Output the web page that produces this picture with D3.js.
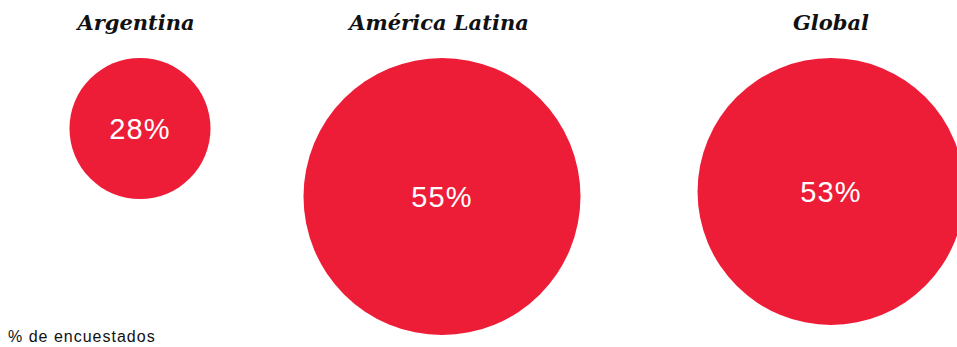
<!DOCTYPE html>
<html>
<head>
<meta charset="utf-8">
<script src="https://cdn.jsdelivr.net/npm/d3@7"></script>
<style>
  html, body { margin: 0; padding: 0; background: #fff; }
  svg { display: block; }
</style>
</head>
<body>
<svg id="chart" width="957" height="347"></svg>
<script>
// Share of respondents by region
const regions = ["Argentina", "América Latina", "Global"];
const shares = [28, 55, 53];
const valueLabels = ["28%", "55%", "53%"];
const footnote = "% de encuestados";

const W = 957, H = 347;
const svg = d3.select("#chart");
const RED = "#ED1D38";

// Horizontal slot for each region
const xPos = d3.scaleOrdinal().domain(regions).range([140, 442, 831]);
// Small nudges for the title line
const titleShift = d3.scaleOrdinal().domain(regions).range([-4, -3, 0]);
// Circle radius grows linearly with the share
const rScale = d3.scaleLinear().domain([0, 55]).range([0, 138.5]);
const topY = 58;

const data = regions.map((r, i) => ({ region: r, value: shares[i], label: valueLabels[i] }));

const g = svg.append("g");

// Region titles
g.selectAll("text.title")
  .data(data)
  .join("text")
  .attr("class", "title")
  .attr("x", d => xPos(d.region) + titleShift(d.region))
  .attr("y", 30)
  .attr("text-anchor", "middle")
  .attr("font-family", "'DejaVu Serif', Georgia, serif")
  .attr("font-style", "italic")
  .attr("font-weight", "bold")
  .attr("font-size", 21)
  .attr("fill", "#111")
  .text(d => d.region);

// Circles, top-aligned
g.selectAll("circle")
  .data(data)
  .join("circle")
  .attr("cx", d => xPos(d.region))
  .attr("cy", d => topY + rScale(d.value))
  .attr("r", d => rScale(d.value))
  .attr("fill", RED);

// Value labels inside circles
g.selectAll("text.value")
  .data(data)
  .join("text")
  .attr("class", "value")
  .attr("x", d => xPos(d.region))
  .attr("y", d => topY + rScale(d.value) + 10.5)
  .attr("text-anchor", "middle")
  .attr("font-family", "'Liberation Sans', Arial, sans-serif")
  .attr("font-size", 29)
  .attr("letter-spacing", 1.2)
  .attr("fill", "#fff")
  .text(d => d.label);

// Footnote
svg.append("text")
  .attr("x", 8)
  .attr("y", 342)
  .attr("font-family", "'Liberation Sans', Arial, sans-serif")
  .attr("font-size", 16)
  .attr("letter-spacing", 1.0)
  .attr("fill", "#111")
  .text(footnote);
</script>
</body>
</html>
